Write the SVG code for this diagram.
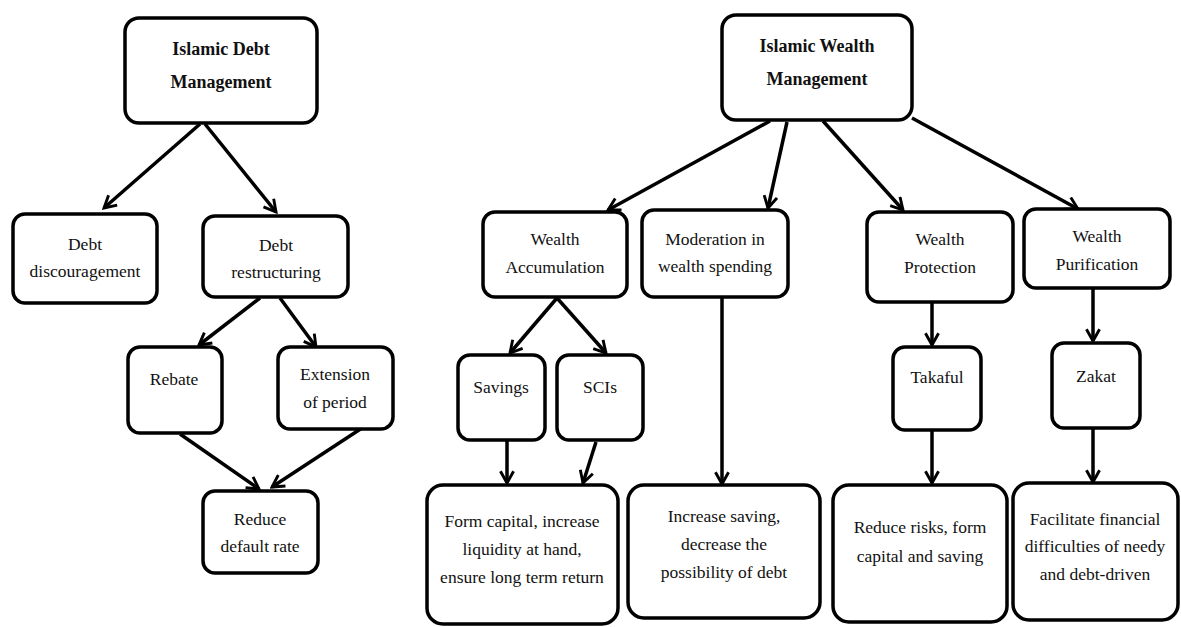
<svg xmlns="http://www.w3.org/2000/svg" width="1181" height="627" viewBox="0 0 1181 627">
<style>
.box{fill:#fff;stroke:#000;stroke-width:3.5}
.t{font-family:"Liberation Serif","DejaVu Serif","Times New Roman",Times,serif;font-size:17.5px;fill:#111;text-anchor:middle}
.b{font-weight:bold;font-size:18px}
.c{stroke:#000;stroke-width:3.5;fill:none;marker-end:url(#ah)}
</style>
<defs>
<marker id="ah" viewBox="0 0 12 12" refX="10" refY="6" markerWidth="4.5" markerHeight="4.5" orient="auto" markerUnits="strokeWidth">
<path d="M1,1 L10,6 L1,11" fill="none" stroke="#000" stroke-width="2.2"/>
</marker>
</defs>
<rect width="1181" height="627" fill="#fff"/>
<g id="connectors">
<line class="c" x1="200" y1="124" x2="104" y2="208"/>
<line class="c" x1="205" y1="124" x2="276" y2="212"/>
<line class="c" x1="260" y1="298" x2="199" y2="345"/>
<line class="c" x1="280" y1="298" x2="316" y2="347"/>
<line class="c" x1="180" y1="434" x2="259" y2="489"/>
<line class="c" x1="362" y1="428" x2="272" y2="487"/>
<line class="c" x1="770" y1="121" x2="608" y2="210"/>
<line class="c" x1="787" y1="122" x2="768" y2="208"/>
<line class="c" x1="823" y1="121" x2="903" y2="210"/>
<line class="c" x1="912" y1="118" x2="1078" y2="209"/>
<line class="c" x1="557" y1="298" x2="510" y2="353"/>
<line class="c" x1="557" y1="298" x2="606" y2="353"/>
<line class="c" x1="507" y1="441" x2="507" y2="483"/>
<line class="c" x1="596" y1="442" x2="583" y2="483"/>
<line class="c" x1="722" y1="298" x2="722" y2="484"/>
<line class="c" x1="932" y1="303" x2="932" y2="345"/>
<line class="c" x1="932" y1="431" x2="932" y2="483"/>
<line class="c" x1="1093" y1="289" x2="1093" y2="341"/>
<line class="c" x1="1093" y1="429" x2="1093" y2="482"/>
</g>
<g id="idm"><rect class="box" x="125" y="18" width="192" height="105" rx="14"/>
<text class="t b" x="221" y="55">Islamic Debt</text><text class="t b" x="221" y="88">Management</text></g>
<g id="discourage"><rect class="box" x="13" y="214" width="144" height="89" rx="12"/>
<text class="t" x="85" y="250">Debt</text><text class="t" x="85" y="277">discouragement</text></g>
<g id="restructure"><rect class="box" x="203" y="216" width="145" height="81" rx="12"/>
<text class="t" x="276" y="251">Debt</text><text class="t" x="276" y="278">restructuring</text></g>
<g id="rebate"><rect class="box" x="128" y="347" width="94" height="86" rx="12"/>
<text class="t" x="174" y="385">Rebate</text></g>
<g id="extension"><rect class="box" x="278" y="347" width="115" height="82" rx="12"/>
<text class="t" x="335" y="380">Extension</text><text class="t" x="335" y="408">of period</text></g>
<g id="reduce-default"><rect class="box" x="203" y="491" width="115" height="82" rx="12"/>
<text class="t" x="260" y="525">Reduce</text><text class="t" x="260" y="552">default rate</text></g>
<g id="iwm"><rect class="box" x="722" y="15" width="190" height="105" rx="14"/>
<text class="t b" x="817" y="52">Islamic Wealth</text><text class="t b" x="817" y="85">Management</text></g>
<g id="accumulation"><rect class="box" x="483" y="212" width="144" height="85" rx="12"/>
<text class="t" x="555" y="245">Wealth</text><text class="t" x="555" y="273">Accumulation</text></g>
<g id="moderation"><rect class="box" x="642" y="210" width="146" height="87" rx="12"/>
<text class="t" x="715" y="245">Moderation in</text><text class="t" x="715" y="272">wealth spending</text></g>
<g id="protection"><rect class="box" x="867" y="212" width="146" height="90" rx="12"/>
<text class="t" x="940" y="245">Wealth</text><text class="t" x="940" y="273">Protection</text></g>
<g id="purification"><rect class="box" x="1024" y="209" width="146" height="79" rx="12"/>
<text class="t" x="1097" y="242">Wealth</text><text class="t" x="1097" y="270">Purification</text></g>
<g id="savings"><rect class="box" x="458" y="355" width="87" height="85" rx="12"/>
<text class="t" x="501" y="393">Savings</text></g>
<g id="scis"><rect class="box" x="557" y="355" width="86" height="85" rx="12"/>
<text class="t" x="600" y="393">SCIs</text></g>
<g id="form-capital"><rect class="box" x="427" y="485" width="191" height="139" rx="16"/>
<text class="t" x="522" y="527">Form capital, increase</text><text class="t" x="522" y="555">liquidity at hand,</text><text class="t" x="522" y="583">ensure long term return</text></g>
<g id="increase-saving"><rect class="box" x="628" y="485" width="192" height="133" rx="16"/>
<text class="t" x="724" y="522">Increase saving,</text><text class="t" x="724" y="550">decrease the</text><text class="t" x="724" y="578">possibility of debt</text></g>
<g id="takaful"><rect class="box" x="893" y="347" width="88" height="83" rx="12"/>
<text class="t" x="937" y="383">Takaful</text></g>
<g id="zakat"><rect class="box" x="1052" y="343" width="88" height="85" rx="12"/>
<text class="t" x="1096" y="382">Zakat</text></g>
<g id="reduce-risks"><rect class="box" x="833" y="485" width="174" height="137" rx="16"/>
<text class="t" x="920" y="533">Reduce risks, form</text><text class="t" x="920" y="562">capital and saving</text></g>
<g id="facilitate"><rect class="box" x="1013" y="483" width="165" height="137" rx="16"/>
<text class="t" x="1095" y="525">Facilitate financial</text><text class="t" x="1095" y="552">difficulties of needy</text><text class="t" x="1095" y="580">and debt-driven</text></g>
</svg>
